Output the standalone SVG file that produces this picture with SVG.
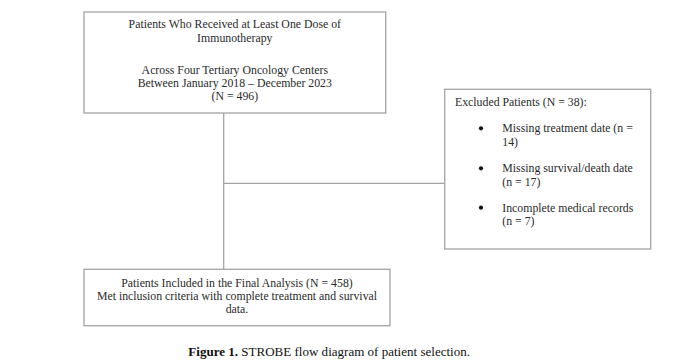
<svg xmlns="http://www.w3.org/2000/svg" width="680" height="363" viewBox="0 0 680 363">
<style>
.box{fill:#ffffff;stroke:#a3a3a3;stroke-width:1.3}
.ln{fill:none;stroke:#a3a3a3;stroke-width:1.3}
.t{font-family:"Liberation Serif","Times New Roman",serif;font-size:11.8px;fill:#2a2a2a}
.c{text-anchor:middle}
.cap{font-family:"Liberation Serif","Times New Roman",serif;font-size:13.5px;fill:#111}
</style>
<rect width="680" height="363" fill="#ffffff"/>
<g id="connectors">
<line class="ln" x1="223.7" y1="113" x2="223.7" y2="269.3"/>
<line class="ln" x1="223.7" y1="183.3" x2="444.7" y2="183.3"/>
</g>
<g id="node-enrolled">
<rect class="box" x="84" y="12" width="301.7" height="101"/>
<text class="t c" x="234.8" y="28.3">Patients Who Received at Least One Dose of</text>
<text class="t c" x="234.8" y="42.3">Immunotherapy</text>
<text class="t c" x="234.8" y="74">Across Four Tertiary Oncology Centers</text>
<text class="t c" x="234.8" y="87">Between January 2018 – December 2023</text>
<text class="t c" x="234.8" y="100">(N = 496)</text>
</g>
<g id="node-excluded">
<rect class="box" x="444.7" y="89.3" width="206" height="159.7"/>
<text class="t" x="455" y="105.7">Excluded Patients (N = 38):</text>
<circle cx="481" cy="128.3" r="2.1" fill="#111"/>
<text class="t" x="502.3" y="132.3">Missing treatment date (n =</text>
<text class="t" x="502.3" y="145.7">14)</text>
<circle cx="481" cy="168.3" r="2.1" fill="#111"/>
<text class="t" x="502.3" y="172.3">Missing survival/death date</text>
<text class="t" x="502.3" y="185.5">(n = 17)</text>
<circle cx="481" cy="207.7" r="2.1" fill="#111"/>
<text class="t" x="502.3" y="211.7">Incomplete medical records</text>
<text class="t" x="502.3" y="225">(n = 7)</text>
</g>
<g id="node-included">
<rect class="box" x="84" y="269.3" width="306" height="56.4"/>
<text class="t c" x="237" y="286.7">Patients Included in the Final Analysis (N = 458)</text>
<text class="t c" x="237" y="299.7">Met inclusion criteria with complete treatment and survival</text>
<text class="t c" x="237" y="312.7">data.</text>
</g>
<g id="caption">
<text class="cap" x="188.3" y="355.7" textLength="281.7" lengthAdjust="spacingAndGlyphs"><tspan font-weight="bold">Figure 1.</tspan> STROBE flow diagram of patient selection.</text>
</g>
</svg>
